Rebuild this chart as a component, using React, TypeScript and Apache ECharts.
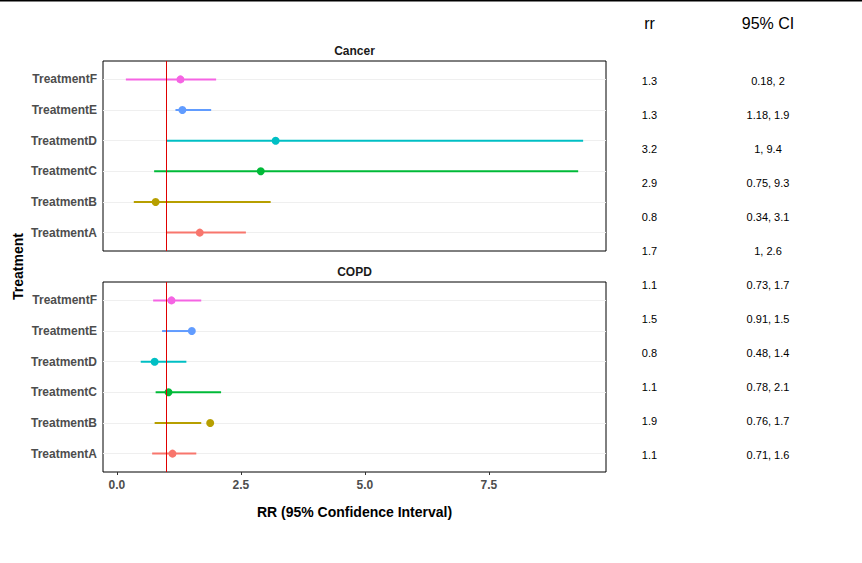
import React, { useEffect, useRef } from "react";
import * as echarts from "echarts";

const treatments = ["TreatmentA", "TreatmentB", "TreatmentC", "TreatmentD", "TreatmentE", "TreatmentF"];
const treatmentColors = ["#F8766D", "#B79F00", "#00BA38", "#00BFC4", "#619CFF", "#F564E3"];

const cancerRR = [1.67, 0.78, 2.9, 3.2, 1.32, 1.28];
const cancerLower = [1.0, 0.34, 0.75, 1.0, 1.18, 0.18];
const cancerUpper = [2.6, 3.1, 9.3, 9.4, 1.9, 2.0];

const copdRR = [1.12, 1.88, 1.04, 0.76, 1.51, 1.1];
const copdLower = [0.71, 0.76, 0.78, 0.48, 0.91, 0.73];
const copdUpper = [1.6, 1.7, 2.1, 1.4, 1.5, 1.7];

const xTicks = [0, 2.5, 5, 7.5];

const tableRR = ["1.3", "1.3", "3.2", "2.9", "0.8", "1.7", "1.1", "1.5", "0.8", "1.1", "1.9", "1.1"];
const tableCI = [
  "0.18, 2", "1.18, 1.9", "1, 9.4", "0.75, 9.3", "0.34, 3.1", "1, 2.6",
  "0.73, 1.7", "0.91, 1.5", "0.48, 1.4", "0.78, 2.1", "0.76, 1.7", "0.71, 1.6",
];

const FONT = "'Liberation Sans', Arial, sans-serif";
const X_MIN = -0.281;
const X_MAX = 9.861;
const catValues = treatments.map((_, i) => i + 1);

function makeAxes(gridIndex: number, showLabels: boolean) {
  const xAxis = {
    type: "value",
    gridIndex,
    min: X_MIN,
    max: X_MAX,
    axisLine: { show: false },
    splitLine: { show: false },
    axisTick: showLabels
      ? { show: true, customValues: xTicks, length: 3, lineStyle: { color: "#333333", width: 1 } }
      : { show: false },
    axisLabel: showLabels
      ? {
          show: true,
          customValues: xTicks,
          formatter: (v: number) => v.toFixed(1),
          color: "#4d4d4d",
          fontWeight: "bold",
          fontSize: 12,
          fontFamily: FONT,
          margin: 7,
        }
      : { show: false },
  };
  const yAxis = {
    type: "value",
    gridIndex,
    min: 0.4,
    max: 6.6,
    axisLine: { show: false },
    splitLine: { show: false },
    axisTick: { show: true, customValues: catValues, length: 3, lineStyle: { color: "#333333", width: 1 } },
    axisLabel: {
      show: true,
      customValues: catValues,
      formatter: (v: number) => treatments[Math.round(v) - 1] ?? "",
      color: "#4d4d4d",
      fontWeight: "bold",
      fontSize: 12,
      fontFamily: FONT,
      margin: 6,
    },
  };
  return { xAxis, yAxis };
}

function makeSeries(axisIndex: number, rr: number[], lower: number[], upper: number[]) {
  const barData = treatments.map((_, i) => [i + 1, lower[i], upper[i]]);
  const pointData = treatments.map((_, i) => ({
    value: [rr[i], i + 1],
    itemStyle: { color: treatmentColors[i], opacity: 1 },
  }));
  return [
    {
      type: "custom",
      xAxisIndex: axisIndex,
      yAxisIndex: axisIndex,
      silent: true,
      encode: { x: [1, 2], y: 0 },
      data: barData,
      renderItem: (params: any, api: any) => {
        const y = api.value(0);
        const p1 = api.coord([api.value(1), y]);
        const p2 = api.coord([api.value(2), y]);
        return {
          type: "line",
          shape: { x1: p1[0], y1: p1[1], x2: p2[0], y2: p2[1] },
          style: { stroke: treatmentColors[params.dataIndex], lineWidth: 2 },
        };
      },
      markLine: {
        silent: true,
        symbol: "none",
        label: { show: false },
        lineStyle: { color: "#efefef", width: 1, type: "solid" },
        data: catValues.map((v) => ({ yAxis: v })),
        z: 1,
      },
      z: 3,
    },
    {
      type: "scatter",
      xAxisIndex: axisIndex,
      yAxisIndex: axisIndex,
      symbol: "circle",
      symbolSize: 8,
      itemStyle: { opacity: 1 },
      data: pointData,
      z: 4,
      markLine: {
        silent: true,
        symbol: "none",
        label: { show: false },
        lineStyle: { color: "#e00000", width: 1, type: "solid" },
        data: [{ xAxis: 1 }],
      },
    },
  ];
}

export default function App() {
  const ref = useRef<HTMLDivElement>(null);

  useEffect(() => {
    if (!ref.current) return;
    const chart = echarts.init(ref.current, null, { renderer: "svg" });
    const a0 = makeAxes(0, false);
    const a1 = makeAxes(1, true);

    const tableTexts: any[] = [];
    tableRR.forEach((t, i) => {
      tableTexts.push({
        type: "text",
        x: 649.5,
        y: 81 + i * 34,
        style: { text: t, fill: "#000", font: `11px ${FONT}`, align: "center", verticalAlign: "middle" },
      });
      tableTexts.push({
        type: "text",
        x: 768,
        y: 81 + i * 34,
        style: { text: tableCI[i], fill: "#000", font: `11px ${FONT}`, align: "center", verticalAlign: "middle" },
      });
    });

    chart.setOption({
      animation: false,
      backgroundColor: "#ffffff",
      grid: [
        { left: 103, top: 61, width: 503, height: 190, show: true, borderColor: "#000", borderWidth: 1, backgroundColor: "transparent" },
        { left: 103, top: 282, width: 503, height: 190, show: true, borderColor: "#000", borderWidth: 1, backgroundColor: "transparent" },
      ],
      xAxis: [a0.xAxis, a1.xAxis],
      yAxis: [a0.yAxis, a1.yAxis],
      series: [
        ...makeSeries(0, cancerRR, cancerLower, cancerUpper),
        ...makeSeries(1, copdRR, copdLower, copdUpper),
      ],
      graphic: [
        { type: "rect", left: 0, top: 0, shape: { width: 862, height: 1.5 }, style: { fill: "#000" }, silent: true },
        {
          type: "text", x: 354.5, y: 51,
          style: { text: "Cancer", fill: "#1a1a1a", font: `bold 12px ${FONT}`, align: "center", verticalAlign: "middle" },
        },
        {
          type: "text", x: 354.5, y: 272,
          style: { text: "COPD", fill: "#1a1a1a", font: `bold 12px ${FONT}`, align: "center", verticalAlign: "middle" },
        },
        {
          type: "text", x: 354.5, y: 512,
          style: { text: "RR (95% Confidence Interval)", fill: "#000", font: `bold 14px ${FONT}`, align: "center", verticalAlign: "middle" },
        },
        {
          type: "text", x: 18, y: 266.5, rotation: Math.PI / 2,
          style: { text: "Treatment", fill: "#000", font: `bold 14px ${FONT}`, align: "center", verticalAlign: "middle" },
        },
        {
          type: "text", x: 649.5, y: 23,
          style: { text: "rr", fill: "#000", font: `16px ${FONT}`, align: "center", verticalAlign: "middle" },
        },
        {
          type: "text", x: 768, y: 23,
          style: { text: "95% CI", fill: "#000", font: `16px ${FONT}`, align: "center", verticalAlign: "middle" },
        },
        ...tableTexts,
      ],
    });
    return () => chart.dispose();
  }, []);

  return (
    <div
      ref={ref}
      style={{ position: "fixed", left: 0, top: 0, width: 862, height: 563, background: "#fff" }}
    />
  );
}
